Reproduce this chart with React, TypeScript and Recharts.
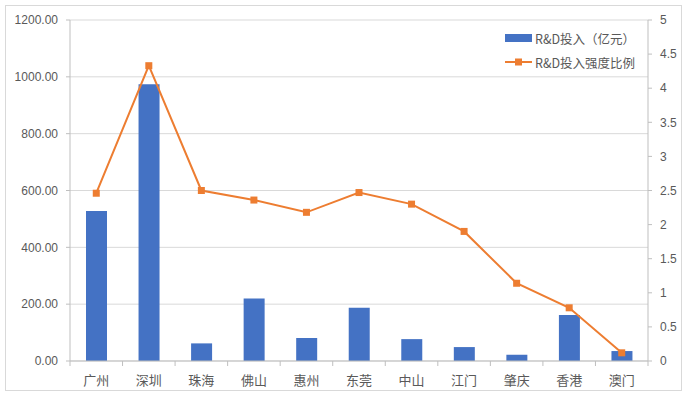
import React from 'react';
import {
  ComposedChart,
  CartesianGrid,
  XAxis,
  YAxis,
  Bar,
  Line,
} from 'recharts';

// 粤港澳大湾区各城市 R&D 投入
const cities = ['广州', '深圳', '珠海', '佛山', '惠州', '东莞', '中山', '江门', '肇庆', '香港', '澳门'];
const rdInvest = [528, 974, 62, 220, 81, 187, 77, 49, 22, 162, 35]; // 亿元
const rdRatio = [2.46, 4.33, 2.5, 2.36, 2.18, 2.47, 2.3, 1.9, 1.14, 0.78, 0.12]; // %
const leftTicks = [0, 200, 400, 600, 800, 1000, 1200];
const rightTicks = [0, 0.5, 1, 1.5, 2, 2.5, 3, 3.5, 4, 4.5, 5];

const BLUE = '#4472C4';
const ORANGE = '#ED7D31';
const AXIS = '#bfbfbf';
const GRID = '#d9d9d9';
const TEXT = '#595959';
const FONT = '"Liberation Sans", Arial, "Noto Sans CJK SC", sans-serif';

const data = cities.map((c, i) => ({ city: c, invest: rdInvest[i], ratio: rdRatio[i] }));

// 类别轴：标签居中，刻度线画在类别边界上
function CityTick(props: any) {
  const { x, y, payload, index } = props;
  const off = Number(payload?.offset) || 26;
  const last = index === cities.length - 1;
  return (
    <g>
      <line x1={x - off} y1={y} x2={x - off} y2={y + 5} stroke={AXIS} />
      {last ? <line x1={x + off} y1={y} x2={x + off} y2={y + 5} stroke={AXIS} /> : null}
      <text
        x={x}
        y={y + 24}
        textAnchor="middle"
        fill={TEXT}
        fontSize={13}
        fontFamily={'"Noto Sans CJK SC", sans-serif'}
      >
        {payload.value}
      </text>
    </g>
  );
}

function SquareDot(props: any) {
  const { cx, cy, index } = props;
  if (cx == null || cy == null) return <g key={`d-${index}`} />;
  return <rect key={`d-${index}`} x={cx - 3.5} y={cy - 3.5} width={7} height={7} fill={ORANGE} />;
}

function LegendBox() {
  const row: React.CSSProperties = {
    display: 'flex',
    alignItems: 'center',
    height: 24,
    fontSize: 12.5,
    color: TEXT,
    fontFamily: '"Noto Sans CJK SC", sans-serif',
    whiteSpace: 'nowrap',
  };
  return (
    <div style={{ position: 'absolute', left: 497, top: 25, background: '#fff', padding: '1px 6px 1px 8px' }}>
      <div style={row}>
        <span style={{ display: 'inline-block', width: 27, height: 8, background: BLUE, marginRight: 3 }} />
        R&amp;D投入（亿元）
      </div>
      <div style={row}>
        <svg width={27} height={8} style={{ marginRight: 3 }}>
          <line x1={0} y1={4} x2={27} y2={4} stroke={ORANGE} strokeWidth={2} />
          <rect x={10} y={0.5} width={7} height={7} fill={ORANGE} />
        </svg>
        R&amp;D投入强度比例
      </div>
    </div>
  );
}

export default function App() {
  return (
    <div style={{ position: 'absolute', left: 0, top: 0, width: 687, height: 398, background: '#fff' }}>
      <div
        style={{
          position: 'absolute',
          left: 5,
          top: 5,
          width: 675,
          height: 384,
          border: `1px solid ${GRID}`,
        }}
      />
      <div style={{ position: 'absolute', left: 0, top: 0 }}>
        <ComposedChart
          width={687}
          height={398}
          data={data}
          margin={{ top: 20, right: 0, bottom: 0, left: 0 }}
        >
          <CartesianGrid yAxisId="left" stroke={GRID} vertical={false} />
          <XAxis
            dataKey="city"
            height={37}
            tickLine={false}
            tickSize={0}
            tickMargin={0}
            axisLine={{ stroke: AXIS }}
            tick={<CityTick />}
            interval={0}
          />
          <YAxis
            yAxisId="left"
            width={70}
            domain={[0, 1200]}
            ticks={leftTicks}
            tickFormatter={(v) => Number(v).toFixed(2)}
            tick={{ fill: TEXT, fontSize: 12, fontFamily: FONT }}
            axisLine={{ stroke: AXIS }}
            tickLine={{ stroke: AXIS }}
            tickSize={4}
            tickMargin={8}
          />
          <YAxis
            yAxisId="right"
            orientation="right"
            width={39}
            domain={[0, 5]}
            ticks={rightTicks}
            tick={{ fill: TEXT, fontSize: 12, fontFamily: FONT, textAnchor: 'start' }}
            axisLine={{ stroke: AXIS }}
            tickLine={{ stroke: AXIS }}
            tickSize={4}
            tickMargin={8}
          />
          <Bar
            yAxisId="left"
            dataKey="invest"
            name="R&D投入（亿元）"
            fill={BLUE}
            barSize={21}
            isAnimationActive={false}
          />
          <Line
            yAxisId="right"
            dataKey="ratio"
            name="R&D投入强度比例"
            type="linear"
            stroke={ORANGE}
            strokeWidth={2}
            dot={SquareDot}
            activeDot={false}
            isAnimationActive={false}
          />
        </ComposedChart>
      </div>
      <LegendBox />
    </div>
  );
}
